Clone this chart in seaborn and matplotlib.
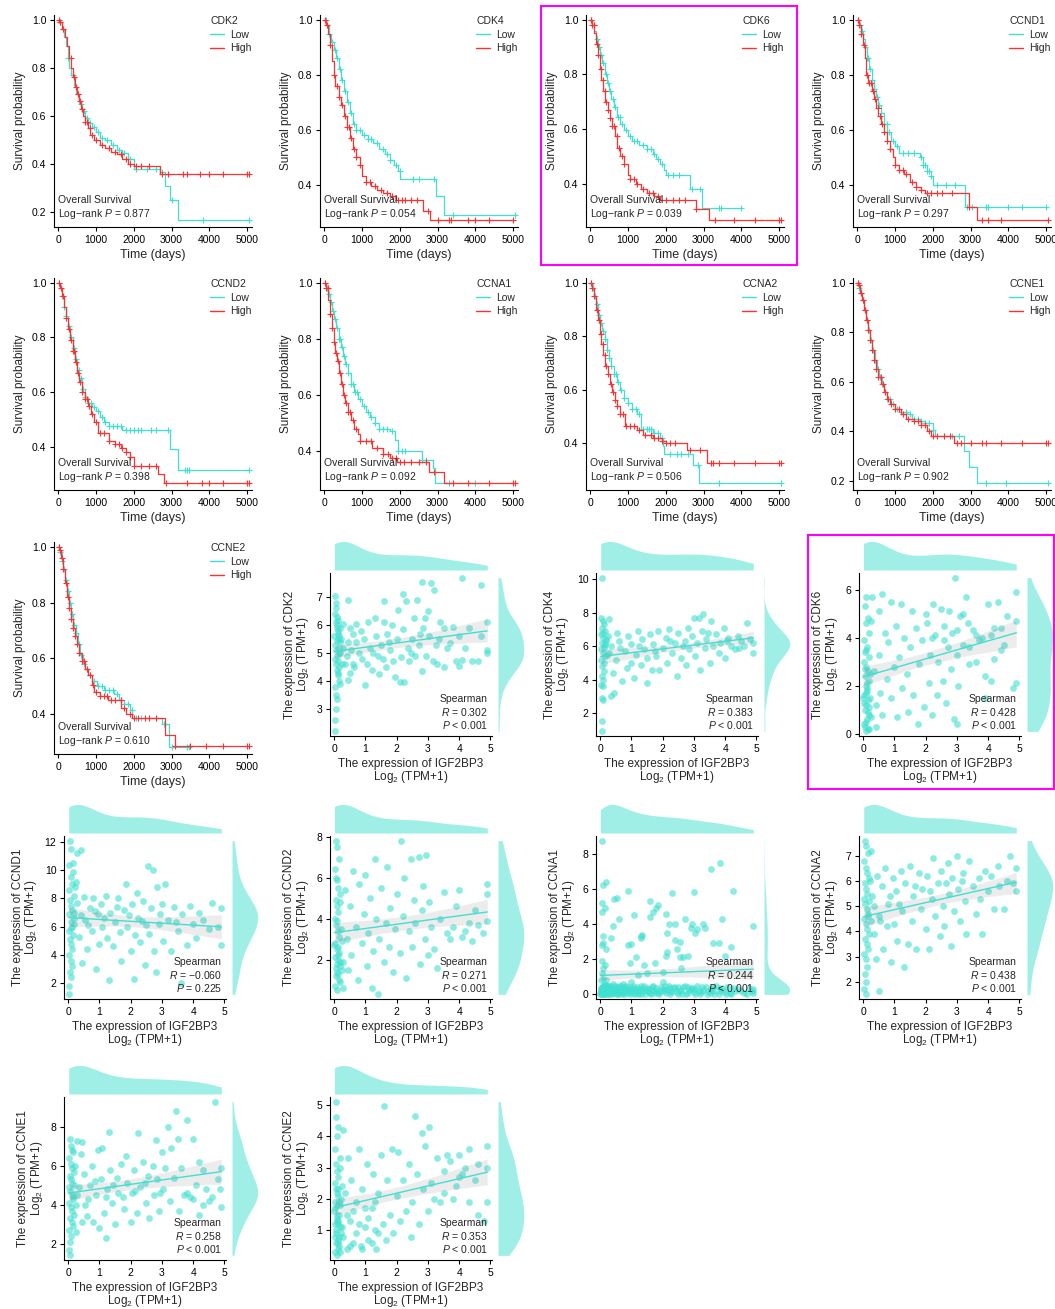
"""
IGF2BP3 相关基因：生存曲线 + 表达相关性散点图
布局按像素放置，输出 out.png
"""
import numpy as np
import matplotlib
matplotlib.use("Agg")
import matplotlib.pyplot as plt
from matplotlib.lines import Line2D
from matplotlib.patches import Rectangle
from matplotlib.ticker import MultipleLocator, FormatStrFormatter
import seaborn as sns

# ── KM 数据：阶梯拐点 (时间, 生存率) + 删失时间 ──
CDK2_LOW_T = [40, 90, 150, 200, 250, 300, 350, 420, 480, 550, 620, 700, 800, 900, 1000, 1100, 1250, 1400, 1550, 1700, 1850, 2000, 2700, 2820, 2960, 3180]
CDK2_LOW_S = [0.99, 0.96, 0.93, 0.89, 0.84, 0.80, 0.77, 0.73, 0.69, 0.65, 0.62, 0.59, 0.57, 0.555, 0.535, 0.51, 0.50, 0.48, 0.46, 0.445, 0.42, 0.38, 0.365, 0.31, 0.25, 0.165]
CDK2_LOW_C = [50, 120, 260, 380, 520, 600, 680, 760, 850, 950, 1050, 1150, 1300, 1450, 1600, 1750, 1900, 2050, 2350, 2600, 2750, 3000, 3820, 5050]
CDK2_HIGH_T = [30, 100, 170, 230, 290, 350, 400, 450, 500, 550, 600, 650, 700, 780, 850, 950, 1100, 1250, 1400, 1550, 1700, 1850, 2000, 2700]
CDK2_HIGH_S = [0.99, 0.96, 0.93, 0.89, 0.84, 0.80, 0.76, 0.72, 0.69, 0.66, 0.63, 0.60, 0.575, 0.55, 0.52, 0.50, 0.48, 0.465, 0.45, 0.44, 0.42, 0.40, 0.39, 0.36]
CDK2_HIGH_C = [20, 60, 130, 330, 420, 470, 520, 580, 640, 700, 760, 830, 900, 1000, 1150, 1350, 1500, 1650, 1800, 1900, 2050, 2200, 2400, 2750, 2900, 3300, 3400, 3750, 4000, 4350, 5000, 5060]

CDK4_LOW_T = [60, 120, 180, 250, 320, 380, 450, 520, 600, 680, 760, 850, 1000, 1150, 1300, 1450, 1600, 1750, 1850, 1950, 2020, 2950, 3180]
CDK4_LOW_S = [0.98, 0.95, 0.92, 0.89, 0.86, 0.82, 0.78, 0.74, 0.70, 0.66, 0.62, 0.60, 0.58, 0.565, 0.55, 0.53, 0.51, 0.49, 0.47, 0.45, 0.42, 0.36, 0.29]
CDK4_LOW_C = [40, 130, 220, 300, 350, 420, 480, 550, 620, 700, 780, 850, 950, 1050, 1150, 1250, 1400, 1550, 1650, 1750, 1900, 2000, 2350, 2500, 2900, 3400, 5050]
CDK4_HIGH_T = [40, 100, 150, 200, 250, 300, 380, 450, 520, 600, 680, 760, 850, 950, 1000, 1100, 1250, 1400, 1550, 1750, 1900, 2620, 2800]
CDK4_HIGH_S = [0.98, 0.95, 0.91, 0.85, 0.80, 0.76, 0.72, 0.69, 0.65, 0.61, 0.57, 0.53, 0.50, 0.47, 0.43, 0.41, 0.395, 0.38, 0.37, 0.36, 0.345, 0.305, 0.27]
CDK4_HIGH_C = [30, 80, 160, 250, 330, 400, 470, 540, 600, 660, 720, 790, 850, 950, 1100, 1200, 1350, 1500, 1650, 1800, 1950, 2050, 2150, 2300, 2450, 2750, 3000, 3300, 3350, 3800, 4000, 4350, 5000]

CDK6_LOW_T = [50, 100, 150, 200, 260, 320, 380, 440, 500, 560, 620, 700, 800, 900, 1000, 1100, 1300, 1500, 1650, 1750, 1850, 1950, 2000, 2650, 2950]
CDK6_LOW_S = [0.98, 0.96, 0.93, 0.90, 0.87, 0.84, 0.80, 0.77, 0.74, 0.71, 0.68, 0.645, 0.62, 0.595, 0.575, 0.555, 0.54, 0.525, 0.51, 0.49, 0.47, 0.45, 0.43, 0.38, 0.31]
CDK6_LOW_C = [30, 90, 170, 240, 290, 350, 420, 480, 530, 600, 660, 730, 780, 850, 950, 1050, 1150, 1250, 1400, 1500, 1600, 1700, 1800, 1900, 2050, 2200, 2350, 2700, 2900, 3400, 3450, 4000]
CDK6_HIGH_T = [40, 100, 150, 200, 250, 300, 350, 400, 460, 520, 580, 650, 720, 800, 900, 1000, 1050, 1200, 1350, 1500, 1700, 1850, 2800, 3150]
CDK6_HIGH_S = [0.98, 0.95, 0.91, 0.87, 0.82, 0.78, 0.74, 0.70, 0.67, 0.64, 0.61, 0.575, 0.53, 0.50, 0.47, 0.43, 0.415, 0.40, 0.38, 0.365, 0.355, 0.34, 0.305, 0.265]
CDK6_HIGH_C = [20, 60, 90, 180, 220, 280, 330, 380, 420, 470, 520, 580, 620, 700, 760, 830, 900, 1050, 1150, 1250, 1400, 1550, 1650, 1800, 2000, 2200, 2350, 2500, 2800, 3300, 3800, 4350, 5000, 5050]

CCND1_LOW_T = [50, 100, 150, 200, 260, 320, 380, 440, 500, 560, 620, 700, 800, 900, 1000, 1100, 1650, 1750, 1850, 1950, 2000, 2850]
CCND1_LOW_S = [0.98, 0.96, 0.93, 0.90, 0.86, 0.82, 0.78, 0.75, 0.72, 0.69, 0.66, 0.62, 0.59, 0.56, 0.54, 0.515, 0.50, 0.47, 0.45, 0.43, 0.40, 0.32]
CCND1_LOW_C = [30, 80, 130, 200, 260, 300, 340, 400, 450, 520, 580, 640, 700, 780, 850, 950, 1050, 1200, 1350, 1500, 1700, 1750, 1800, 1850, 1900, 1950, 2100, 2350, 2600, 2900, 3050, 3400, 3450, 4000, 4350, 5000]
CCND1_HIGH_T = [40, 100, 150, 200, 230, 300, 380, 440, 500, 560, 620, 700, 780, 860, 950, 1000, 1100, 1250, 1400, 1550, 1700, 1800, 2950, 3170]
CCND1_HIGH_S = [0.98, 0.95, 0.91, 0.86, 0.80, 0.77, 0.74, 0.71, 0.68, 0.65, 0.62, 0.59, 0.56, 0.53, 0.50, 0.47, 0.455, 0.44, 0.41, 0.39, 0.38, 0.37, 0.32, 0.27]
CCND1_HIGH_C = [20, 60, 110, 170, 260, 320, 370, 420, 480, 540, 600, 660, 720, 800, 880, 1000, 1100, 1200, 1300, 1450, 1550, 1700, 1850, 1950, 2100, 2250, 2500, 2950, 3300, 3450, 3800, 5050]

CCND2_LOW_T = [50, 100, 150, 200, 260, 320, 380, 440, 500, 560, 620, 700, 800, 900, 1000, 1100, 1200, 1350, 1700, 2950, 3180]
CCND2_LOW_S = [0.98, 0.95, 0.91, 0.88, 0.84, 0.80, 0.76, 0.72, 0.68, 0.65, 0.61, 0.58, 0.56, 0.545, 0.53, 0.51, 0.49, 0.475, 0.46, 0.39, 0.315]
CCND2_LOW_C = [30, 100, 160, 220, 300, 350, 420, 480, 540, 600, 660, 720, 800, 880, 960, 1050, 1150, 1250, 1350, 1450, 1550, 1650, 1800, 1900, 2000, 2100, 2200, 2450, 2600, 2900, 3350, 3400, 3450, 5050]
CCND2_HIGH_T = [40, 100, 150, 200, 260, 320, 380, 440, 500, 560, 620, 700, 800, 880, 950, 1050, 1350, 1500, 1650, 1800, 1900, 2000, 2650, 2800]
CCND2_HIGH_S = [0.98, 0.95, 0.91, 0.87, 0.83, 0.79, 0.75, 0.71, 0.67, 0.635, 0.60, 0.575, 0.55, 0.52, 0.49, 0.45, 0.42, 0.41, 0.395, 0.38, 0.36, 0.33, 0.30, 0.265]
CCND2_HIGH_C = [20, 70, 120, 200, 280, 330, 380, 430, 480, 530, 580, 640, 700, 760, 820, 900, 1000, 1100, 1200, 1350, 1500, 1600, 1700, 1800, 1900, 2000, 2200, 2400, 2600, 2850, 3400, 3800, 4000, 4350, 5000, 5050]

CCNA1_LOW_T = [50, 100, 150, 200, 260, 320, 380, 440, 500, 560, 620, 700, 800, 900, 1000, 1100, 1200, 1350, 1450, 1750, 1880, 1950, 2600, 2880, 2930]
CCNA1_LOW_S = [0.98, 0.96, 0.93, 0.90, 0.87, 0.84, 0.80, 0.77, 0.74, 0.71, 0.68, 0.64, 0.61, 0.585, 0.56, 0.54, 0.52, 0.50, 0.48, 0.47, 0.44, 0.40, 0.37, 0.34, 0.285]
CCNA1_LOW_C = [20, 70, 120, 180, 230, 280, 330, 380, 430, 480, 530, 580, 640, 700, 760, 820, 880, 950, 1050, 1150, 1250, 1350, 1450, 1550, 1650, 1800, 1950, 2050, 2150, 2600, 2700, 3300, 4000]
CCNA1_HIGH_T = [40, 100, 150, 200, 250, 300, 350, 400, 450, 500, 560, 620, 700, 800, 900, 950, 1275, 1550, 1740, 1930, 2780, 3160]
CCNA1_HIGH_S = [0.98, 0.94, 0.89, 0.84, 0.79, 0.75, 0.72, 0.68, 0.64, 0.60, 0.57, 0.54, 0.51, 0.48, 0.46, 0.435, 0.41, 0.39, 0.375, 0.36, 0.325, 0.285]
CCNA1_HIGH_C = [10, 50, 90, 150, 220, 270, 320, 370, 420, 470, 520, 570, 620, 680, 760, 850, 950, 1100, 1250, 1400, 1550, 1700, 1800, 1900, 2000, 2100, 2300, 2500, 2700, 2900, 3400, 3800, 4350, 5000, 5050]

CCNA2_LOW_T = [50, 100, 150, 200, 260, 320, 380, 440, 500, 560, 620, 700, 800, 900, 1000, 1100, 1250, 1340, 1670, 1840, 1930, 1950, 2720, 2880]
CCNA2_LOW_S = [0.98, 0.95, 0.92, 0.88, 0.85, 0.82, 0.79, 0.75, 0.72, 0.69, 0.66, 0.63, 0.60, 0.57, 0.55, 0.53, 0.51, 0.455, 0.44, 0.42, 0.39, 0.36, 0.32, 0.25]
CCNA2_LOW_C = [30, 80, 130, 190, 240, 290, 340, 400, 450, 500, 560, 620, 680, 750, 820, 900, 1000, 1100, 1200, 1300, 1400, 1500, 1550, 1600, 1700, 1800, 1900, 2100, 2300, 2400, 2600, 2850, 3400, 5050]
CCNA2_HIGH_T = [40, 100, 150, 200, 250, 300, 350, 400, 460, 520, 580, 650, 720, 800, 920, 1230, 1400, 1670, 1890, 2000, 2560, 3090]
CCNA2_HIGH_S = [0.98, 0.95, 0.90, 0.86, 0.81, 0.77, 0.73, 0.69, 0.66, 0.62, 0.59, 0.56, 0.54, 0.51, 0.465, 0.45, 0.43, 0.42, 0.41, 0.40, 0.375, 0.325]
CCNA2_HIGH_C = [20, 60, 110, 170, 230, 280, 330, 380, 430, 480, 540, 600, 660, 720, 800, 880, 960, 1050, 1150, 1300, 1450, 1600, 1700, 1800, 1900, 2000, 2100, 2250, 2650, 2900, 3200, 3250, 3400, 3800, 4350, 5000, 5050]

CCNE1_LOW_T = [40, 90, 140, 190, 240, 290, 340, 400, 460, 520, 580, 650, 720, 800, 900, 1000, 1150, 1320, 1450, 1650, 1800, 2000, 2050, 2820, 2950, 3160]
CCNE1_LOW_S = [0.98, 0.96, 0.93, 0.89, 0.85, 0.81, 0.77, 0.73, 0.69, 0.65, 0.62, 0.59, 0.56, 0.53, 0.51, 0.49, 0.48, 0.47, 0.45, 0.44, 0.435, 0.405, 0.38, 0.32, 0.255, 0.19]
CCNE1_LOW_C = [20, 60, 110, 160, 210, 260, 320, 370, 420, 480, 540, 600, 660, 730, 800, 880, 960, 1050, 1150, 1300, 1400, 1500, 1600, 1700, 1800, 1900, 2000, 2300, 2500, 2700, 3400, 3950, 5050]
CCNE1_HIGH_T = [30, 80, 130, 180, 230, 280, 330, 380, 440, 500, 560, 630, 700, 780, 880, 1000, 1150, 1300, 1500, 1700, 1850, 1950, 2550]
CCNE1_HIGH_S = [0.99, 0.96, 0.93, 0.89, 0.85, 0.81, 0.77, 0.73, 0.69, 0.65, 0.62, 0.59, 0.56, 0.53, 0.51, 0.49, 0.47, 0.45, 0.44, 0.425, 0.40, 0.38, 0.355]
CCNE1_HIGH_C = [10, 50, 100, 150, 200, 250, 300, 350, 400, 450, 500, 560, 620, 680, 750, 820, 900, 1000, 1100, 1200, 1350, 1500, 1600, 1700, 1800, 1900, 2000, 2100, 2300, 2450, 2650, 2750, 3000, 3300, 3400, 3800, 4350, 5000, 5050]

CCNE2_LOW_T = [40, 90, 140, 190, 240, 290, 340, 400, 460, 520, 580, 650, 720, 800, 900, 1040, 1200, 1480, 1600, 1750, 1900, 1960, 2760, 2930]
CCNE2_LOW_S = [0.98, 0.95, 0.92, 0.88, 0.84, 0.80, 0.76, 0.72, 0.69, 0.65, 0.61, 0.58, 0.56, 0.54, 0.52, 0.50, 0.485, 0.47, 0.45, 0.435, 0.415, 0.385, 0.365, 0.28]
CCNE2_LOW_C = [20, 60, 110, 160, 210, 260, 310, 360, 420, 480, 540, 600, 680, 760, 850, 950, 1050, 1150, 1250, 1350, 1450, 1550, 1650, 1750, 1850, 1950, 2050, 2200, 2600, 2800, 3000, 3400, 3450]
CCNE2_HIGH_T = [30, 80, 130, 180, 230, 280, 330, 380, 440, 500, 560, 620, 700, 800, 900, 940, 1100, 1310, 1660, 1800, 1950, 2830, 3100]
CCNE2_HIGH_S = [0.99, 0.96, 0.92, 0.87, 0.82, 0.78, 0.74, 0.71, 0.68, 0.65, 0.62, 0.59, 0.56, 0.54, 0.505, 0.48, 0.463, 0.45, 0.42, 0.40, 0.385, 0.323, 0.284]
CCNE2_HIGH_C = [10, 40, 90, 140, 200, 250, 300, 350, 400, 450, 500, 560, 620, 690, 760, 840, 920, 1000, 1100, 1200, 1300, 1400, 1500, 1650, 1750, 1900, 2000, 2100, 2300, 2400, 2600, 3100, 3500, 3900, 4350, 5000, 5050]

KM_GENES = ["CDK2", "CDK4", "CDK6", "CCND1", "CCND2", "CCNA1", "CCNA2", "CCNE1", "CCNE2"]
KM_PVALUES = ["0.877", "0.054", "0.039", "0.297", "0.398", "0.092", "0.506", "0.902", "0.610"]

# ── 相关性散点数据 (IGF2BP3, 基因) ──
CDK2_PTS = [
    (0.02, 7.05), (0.05, 6.6), (0.08, 6.3), (0.10, 6.0), (0.12, 5.8), (0.15, 5.6), (0.18, 5.4), (0.03, 6.4), (0.06, 6.1), (0.09, 5.9),
    (0.11, 5.7), (0.14, 5.5), (0.17, 5.2), (0.20, 5.0), (0.04, 5.3), (0.07, 5.1), (0.10, 4.9), (0.13, 4.7), (0.16, 4.5), (0.02, 4.8),
    (0.05, 4.6), (0.08, 4.4), (0.12, 4.2), (0.15, 4.0), (0.03, 3.8), (0.06, 3.5), (0.09, 3.35), (0.05, 3.0), (0.02, 2.6), (0.04, 2.2),
    (0.07, 6.8), (0.13, 6.2), (0.18, 5.9), (0.22, 5.5), (0.01, 5.6), (0.09, 5.45), (0.16, 5.0), (0.24, 4.6), (0.11, 4.3), (0.19, 3.9),
    (0.45, 6.9), (0.3, 6.05), (0.5, 5.9), (0.6, 5.7), (0.7, 6.05), (0.45, 5.4), (0.55, 5.1), (0.4, 4.9), (0.6, 4.6), (0.5, 4.3),
    (0.45, 4.05), (0.65, 4.5), (0.8, 5.0), (0.9, 4.8), (0.95, 5.5), (1.0, 3.85), (1.05, 4.6), (1.1, 6.1), (1.15, 5.2), (1.2, 4.4),
    (1.3, 6.25), (1.35, 5.6), (1.4, 4.9), (1.45, 4.25), (1.5, 5.3), (1.6, 6.85), (1.6, 6.1), (1.65, 4.5), (1.7, 5.7), (1.8, 5.1),
    (1.85, 6.0), (1.9, 4.7), (1.95, 4.15), (2.0, 5.5), (2.05, 6.55), (2.1, 3.95), (2.15, 4.85), (2.2, 7.1), (2.2, 5.85), (2.25, 3.95),
    (2.3, 6.85), (2.35, 5.2), (2.4, 4.7), (2.5, 5.5), (2.55, 6.25), (2.6, 4.9), (2.65, 6.9), (2.7, 5.3), (2.8, 7.55), (2.8, 4.35),
    (2.85, 5.9), (2.9, 6.25), (2.95, 4.9), (3.0, 6.5), (3.05, 5.6), (3.1, 7.5), (3.15, 4.7), (3.2, 7.25), (3.25, 5.3), (3.3, 4.6),
    (3.4, 6.1), (3.5, 4.5), (3.5, 5.9), (3.6, 5.2), (3.7, 5.35), (3.8, 5.95), (3.9, 4.7), (4.0, 4.55), (4.0, 5.6), (4.1, 7.7),
    (4.1, 4.75), (4.2, 5.2), (4.3, 5.9), (4.4, 4.7), (4.6, 4.7), (4.7, 7.45), (4.7, 5.6), (4.9, 6.1), (4.9, 5.1), (4.9, 5.0),
    (0.3, 5.2), (0.35, 4.6), (0.7, 5.4), (0.85, 5.8), (1.25, 5.0), (1.55, 4.8), (1.75, 5.4), (2.45, 5.0), (2.75, 5.7), (3.35, 5.5),
]
CDK4_PTS = [
    (0.05, 10.1), (0.03, 7.7), (0.08, 7.5), (0.12, 7.3), (0.05, 7.1), (0.15, 6.9), (0.02, 6.7), (0.1, 6.5), (0.18, 6.3), (0.06, 6.2),
    (0.13, 6.0), (0.04, 5.8), (0.09, 5.6), (0.16, 5.4), (0.02, 5.2), (0.11, 5.0), (0.07, 4.8), (0.14, 4.5), (0.05, 4.2), (0.1, 4.0),
    (0.03, 3.7), (0.08, 3.6), (0.05, 2.9), (0.1, 2.8), (0.05, 1.5), (0.05, 0.9), (0.2, 6.4), (0.12, 5.9), (0.22, 5.5), (0.08, 6.8),
    (0.3, 7.6), (0.35, 6.0), (0.4, 4.4), (0.45, 3.2), (0.35, 3.0), (0.5, 5.2), (0.6, 6.3), (0.7, 3.9), (0.8, 5.7), (0.85, 4.7),
    (0.9, 6.6), (1.0, 5.0), (1.0, 6.1), (1.1, 4.1), (1.15, 5.5), (1.2, 6.9), (1.3, 4.9), (1.35, 6.4), (1.4, 5.8), (1.5, 3.8),
    (1.5, 5.3), (1.6, 6.7), (1.65, 4.6), (1.7, 6.1), (1.8, 5.4), (1.85, 6.9), (1.9, 4.6), (2.0, 5.9), (2.1, 6.5), (2.15, 5.0),
    (2.2, 7.0), (2.3, 5.6), (2.4, 6.2), (2.45, 4.2), (2.5, 6.8), (2.6, 5.3), (2.7, 6.3), (2.75, 4.9), (2.8, 7.1), (2.85, 5.8),
    (2.95, 6.6), (3.0, 7.7), (3.05, 5.4), (3.1, 6.2), (3.15, 7.7), (3.2, 4.6), (3.25, 6.9), (3.3, 7.9), (3.35, 5.9), (3.4, 6.4),
    (3.5, 5.0), (3.55, 7.5), (3.6, 6.0), (3.7, 6.7), (3.8, 5.6), (3.85, 6.2), (3.95, 7.1), (4.0, 5.3), (4.1, 6.5), (4.2, 6.0),
    (4.3, 5.8), (4.4, 6.6), (4.5, 6.3), (4.6, 6.0), (4.7, 7.4), (4.8, 6.4), (4.9, 6.2), (4.9, 5.6), (0.25, 6.6), (0.55, 6.8),
    (0.15, 6.1), (0.3, 5.6), (0.65, 5.9), (1.25, 6.0), (1.75, 5.7), (2.25, 6.3), (2.65, 6.0), (3.45, 6.8), (4.05, 6.3), (4.45, 5.9),
]
CDK6_PTS = [
    (0.1, 5.7), (0.05, 5.3), (0.15, 4.8), (0.08, 4.6), (0.2, 4.2), (0.03, 3.9), (0.12, 3.6), (0.06, 3.4), (0.18, 3.2), (0.02, 3.0),
    (0.1, 2.8), (0.15, 2.6), (0.05, 2.4), (0.2, 2.2), (0.08, 2.0), (0.13, 1.8), (0.03, 1.6), (0.17, 1.4), (0.1, 1.2), (0.06, 1.0),
    (0.2, 0.8), (0.12, 0.6), (0.04, 0.4), (0.15, 0.2), (0.08, 0.1), (0.22, 2.5), (0.01, 1.5), (0.09, 3.5), (0.24, 0.7), (0.14, 1.9),
    (0.05, 0.3), (0.1, 0.5), (0.15, 0.9), (0.2, 1.1), (0.03, 1.3), (0.08, 1.7), (0.12, 2.1), (0.18, 0.2), (0.06, 2.7), (0.22, 1.5),
    (0.3, 5.7), (0.25, 4.7), (0.35, 2.6), (0.4, 1.2), (0.4, 0.3), (0.5, 5.1), (0.5, 3.3), (0.55, 1.7), (0.6, 0.8), (0.6, 5.8),
    (0.7, 4.2), (0.75, 2.3), (0.8, 3.8), (0.9, 1.5), (0.9, 5.5), (1.0, 2.8), (1.05, 4.5), (1.1, 0.7), (1.15, 3.2), (1.2, 5.4),
    (1.25, 1.9), (1.3, 4.0), (1.4, 2.5), (1.45, 0.9), (1.5, 3.6), (1.55, 5.1), (1.6, 1.6), (1.7, 4.4), (1.75, 0.4), (1.8, 2.9),
    (1.9, 3.9), (1.95, 1.1), (2.0, 5.0), (2.05, 4.6), (2.1, 2.1), (2.15, 3.3), (2.2, 0.8), (2.25, 5.4), (2.3, 4.1), (2.35, 1.6),
    (2.4, 3.0), (2.5, 5.2), (2.55, 2.2), (2.6, 4.5), (2.65, 1.3), (2.7, 3.6), (2.75, 5.1), (2.8, 2.7), (2.85, 4.2), (2.9, 0.6),
    (2.95, 6.5), (3.0, 3.3), (3.0, 0.4), (3.05, 2.0), (3.1, 4.9), (3.2, 3.7), (3.3, 5.7), (3.35, 4.6), (3.4, 2.9), (3.5, 4.3),
    (3.6, 3.0), (3.7, 3.9), (3.8, 4.0), (3.9, 2.4), (4.0, 5.4), (4.1, 2.2), (4.2, 4.4), (4.3, 5.5), (4.4, 3.5), (4.5, 3.7),
    (4.6, 4.9), (4.8, 1.9), (4.9, 5.9), (4.9, 4.7), (4.9, 2.1), (3.6, 4.1), (3.9, 1.5), (4.2, 3.1), (4.4, 4.4), (4.1, 4.1),
    (3.4, 3.6), (3.2, 5.0), (3.0, 4.3), (2.6, 3.9), (2.2, 4.0),
]
CCND1_PTS = [
    (0.05, 12.1), (0.1, 11.5), (0.03, 10.4), (0.15, 9.9), (0.08, 9.5), (0.12, 9.0), (0.02, 8.6), (0.18, 8.2), (0.06, 7.9), (0.1, 7.5),
    (0.14, 7.2), (0.04, 6.9), (0.2, 6.6), (0.08, 6.3), (0.12, 6.0), (0.02, 5.7), (0.16, 5.4), (0.06, 5.1), (0.1, 4.8), (0.14, 4.4),
    (0.03, 4.0), (0.08, 3.6), (0.12, 3.2), (0.05, 2.8), (0.1, 2.4), (0.04, 1.8), (0.02, 1.2), (0.22, 8.8), (0.18, 7.0), (0.09, 5.9),
    (0.3, 11.2), (0.4, 11.4), (0.3, 7.7), (0.35, 5.3), (0.45, 3.4), (0.5, 8.1), (0.55, 6.5), (0.6, 4.4), (0.7, 7.3), (0.75, 5.7),
    (0.8, 8.0), (0.9, 3.0), (0.95, 6.9), (1.0, 4.8), (1.05, 7.6), (1.1, 6.0), (1.2, 8.2), (1.25, 5.2), (1.3, 2.2), (1.35, 7.0),
    (1.45, 4.6), (1.5, 6.3), (1.6, 8.0), (1.65, 5.6), (1.7, 3.6), (1.8, 7.2), (1.85, 9.0), (1.9, 6.0), (2.0, 4.3), (2.05, 7.6),
    (2.1, 2.3), (2.15, 5.4), (2.2, 8.4), (2.25, 6.6), (2.3, 4.9), (2.4, 7.8), (2.45, 3.3), (2.5, 6.1), (2.55, 10.3), (2.6, 5.5),
    (2.65, 7.3), (2.7, 10.0), (2.75, 4.3), (2.8, 2.8), (2.85, 8.8), (2.9, 6.2), (3.0, 7.6), (3.05, 5.0), (3.1, 9.0), (3.2, 6.5),
    (3.3, 4.3), (3.4, 7.4), (3.5, 5.7), (3.6, 2.0), (3.65, 6.9), (3.8, 4.7), (3.9, 7.5), (4.0, 6.2), (4.1, 5.2), (4.2, 7.0),
    (4.3, 6.5), (4.5, 5.8), (4.6, 7.7), (4.8, 6.0), (4.9, 7.3), (4.9, 4.7), (0.25, 9.2), (0.15, 10.5),
    (0.2, 6.2), (0.4, 6.8), (0.65, 6.1), (0.85, 7.1), (1.15, 6.6), (1.55, 7.4), (1.95, 6.8), (2.35, 6.4), (2.95, 6.9), (3.45, 6.3),
]
CCND2_PTS = [
    (0.05, 7.8), (0.1, 7.5), (0.15, 6.9), (0.03, 6.4), (0.08, 5.9), (0.12, 5.5), (0.18, 5.2), (0.05, 4.9), (0.1, 4.6), (0.14, 4.3),
    (0.02, 4.0), (0.07, 3.7), (0.12, 3.4), (0.17, 3.1), (0.04, 2.8), (0.09, 2.5), (0.14, 2.2), (0.2, 1.9), (0.06, 1.6), (0.11, 1.3),
    (0.16, 1.0), (0.03, 0.7), (0.08, 0.5), (0.22, 3.5), (0.13, 2.0), (0.2, 4.8), (0.06, 6.0), (0.01, 2.7), (0.24, 1.5), (0.1, 3.9),
    (0.05, 1.2), (0.1, 1.8), (0.15, 2.3), (0.2, 0.9), (0.03, 2.1), (0.08, 1.4), (0.12, 2.6), (0.18, 1.7), (0.25, 2.9), (0.3, 1.9),
    (0.3, 0.6), (0.35, 5.4), (0.4, 3.0), (0.45, 1.5), (0.5, 4.6), (0.55, 2.2), (0.6, 6.3), (0.7, 3.6), (0.75, 1.0), (0.8, 5.7),
    (0.9, 2.8), (0.95, 4.2), (1.0, 6.1), (1.05, 1.7), (1.1, 3.3), (1.15, 5.0), (1.2, 0.6), (1.25, 2.4), (1.3, 6.9), (1.35, 4.0),
    (1.4, 0.3), (1.45, 3.0), (1.5, 5.5), (1.6, 1.9), (1.65, 3.8), (1.7, 6.5), (1.75, 2.6), (1.8, 4.5), (1.9, 1.4), (1.95, 3.5),
    (2.0, 5.2), (2.1, 2.3), (2.15, 7.8), (2.2, 4.1), (2.25, 6.0), (2.3, 1.1), (2.4, 3.4), (2.45, 6.9), (2.5, 2.6), (2.55, 4.9),
    (2.6, 3.8), (2.7, 7.0), (2.75, 1.8), (2.8, 4.4), (2.85, 5.6), (2.9, 3.0), (2.95, 7.1), (3.0, 2.2), (3.05, 4.8), (3.1, 3.6),
    (3.2, 2.5), (3.3, 1.6), (3.4, 4.0), (3.5, 5.3), (3.6, 3.3), (3.7, 3.0), (3.8, 3.6), (3.9, 4.6), (4.0, 5.4), (4.1, 3.1),
    (4.2, 3.4), (4.3, 3.8), (4.4, 2.9), (4.5, 4.4), (4.6, 3.7), (4.75, 3.3), (4.9, 5.7), (4.9, 3.9), (4.9, 5.2),
]
CCNA1_PTS = [
    (0.05, 8.75), (0.1, 6.2), (0.2, 6.4), (0.05, 5.2), (0.05, 4.7), (0.15, 4.9), (0.05, 2.8), (0.1, 3.3), (0.2, 2.6), (0.1, 2.9),
    (0.05, 1.9), (0.1, 1.5), (0.15, 1.7), (0.05, 1.2), (0.1, 0.9), (0.02, 0.1), (0.05, 0.3), (0.08, 0.5), (0.1, 0.0), (0.12, 0.2),
    (0.15, 0.6), (0.18, 0.1), (0.03, 0.8), (0.06, 0.4), (0.09, 0.15), (0.2, 0.3), (0.25, 0.05), (0.14, 0.35), (0.04, 0.05), (0.22, 0.5),
    (0.45, 5.4), (0.55, 5.5), (0.6, 4.3), (0.4, 3.9), (0.35, 3.2), (0.9, 5.9), (0.9, 2.8), (1.0, 2.85), (0.95, 1.8), (1.1, 4.5),
    (1.15, 2.1), (1.3, 3.3), (1.35, 3.4), (1.3, 3.2), (1.4, 1.7), (1.6, 5.3), (1.7, 4.7), (1.6, 4.4), (1.85, 5.1), (1.8, 4.9),
    (1.75, 1.8), (2.1, 4.6), (2.2, 4.0), (2.3, 5.75), (2.15, 3.5), (2.1, 2.2), (2.15, 2.4), (2.4, 4.0), (2.4, 3.1), (2.45, 2.6),
    (2.55, 3.0), (2.55, 2.1), (2.7, 4.3), (2.65, 2.1), (2.8, 2.2), (2.9, 3.8), (3.0, 5.85), (2.95, 4.0), (3.05, 3.5), (3.1, 3.7),
    (3.3, 4.0), (3.35, 3.8), (3.55, 7.15), (3.6, 2.9), (3.8, 2.9), (3.85, 7.5), (3.9, 4.3), (4.25, 5.9), (4.2, 2.7), (4.0, 2.2),
    (4.9, 3.9), (1.5, 1.2), (2.0, 1.3), (1.2, 1.1), (2.6, 1.5),
    (0.3, 0.3), (0.5, 0.1), (0.6, 0.5), (0.7, 0.2), (0.8, 0.05), (0.9, 0.4), (1.0, 0.15), (1.1, 0.3), (1.2, 0.0), (1.3, 0.5),
    (1.4, 0.2), (1.5, 0.35), (1.6, 0.1), (1.7, 0.45), (1.8, 0.2), (1.9, 0.05), (2.0, 0.3), (2.1, 0.1), (2.2, 0.5), (2.3, 0.2),
    (2.4, 0.35), (2.5, 0.05), (2.6, 0.25), (2.7, 0.45), (2.8, 0.1), (2.9, 0.3), (3.0, 0.15), (3.1, 0.5), (3.2, 0.05), (3.3, 0.25),
    (3.4, 0.4), (3.5, 0.1), (3.6, 0.2), (3.7, 0.5), (3.8, 0.05), (3.9, 0.3), (4.0, 0.15), (4.2, 0.05), (4.3, 0.2), (4.9, 0.3),
    (4.9, 0.1), (0.4, 0.6), (1.0, 0.7), (2.0, 0.7), (0.2, 0.8),
    (0.01, 0.05), (0.03, 0.2), (0.07, 0.1), (0.11, 0.45), (0.16, 0.05), (0.19, 0.25), (0.27, 0.15), (0.33, 0.4), (0.38, 0.05), (0.42, 0.25),
    (0.48, 0.5), (0.52, 0.3), (0.58, 0.05), (0.65, 0.35), (0.72, 0.6), (0.78, 0.15), (0.85, 0.3), (0.95, 0.05), (1.05, 0.45), (1.15, 0.2),
    (0.08, 0.25), (0.13, 0.05), (0.17, 0.4), (0.23, 0.2), (0.35, 0.1), (0.55, 0.2), (0.75, 0.4), (0.98, 0.25), (1.25, 0.1), (1.35, 0.3),
    (1.55, 0.15), (1.65, 0.4), (1.85, 0.1), (2.05, 0.2), (2.25, 0.05), (2.35, 0.4), (2.55, 0.2), (2.75, 0.05), (2.95, 0.35), (3.15, 0.2),
    (0.02, 0.35), (0.06, 0.15), (0.1, 0.3), (0.14, 0.2), (0.18, 0.45), (0.21, 0.1), (0.26, 0.35), (0.31, 0.2), (0.36, 0.5), (0.44, 0.1),
    (0.5, 0.4), (0.62, 0.1), (0.68, 0.25), (0.82, 0.5), (0.88, 0.1), (1.08, 0.05), (1.18, 0.4), (1.28, 0.25), (1.45, 0.05), (1.58, 0.3),
    (1.75, 0.1), (1.95, 0.4), (2.15, 0.25), (2.45, 0.15), (2.65, 0.4), (2.85, 0.25), (3.05, 0.05), (3.25, 0.4), (3.45, 0.2), (3.65, 0.05),
    (3.85, 0.35), (4.05, 0.4), (4.15, 0.1), (4.4, 0.3), (4.6, 0.1), (4.75, 0.35), (3.55, 0.3), (2.25, 0.35), (1.4, 0.45), (0.7, 0.05),
    (0.04, 0.25), (0.09, 0.05), (0.12, 0.4), (0.16, 0.3), (0.2, 0.15), (0.24, 0.45), (0.29, 0.05), (0.34, 0.25), (0.4, 0.15), (0.46, 0.35),
    (0.53, 0.05), (0.6, 0.3), (0.66, 0.45), (0.74, 0.1), (0.8, 0.3), (0.92, 0.2), (1.02, 0.35), (1.12, 0.1), (1.22, 0.3), (1.32, 0.05),
    (1.48, 0.25), (1.62, 0.05), (1.78, 0.35), (1.92, 0.2), (2.08, 0.45), (2.28, 0.15), (2.48, 0.4), (2.62, 0.05), (2.82, 0.4), (3.02, 0.3),
    (3.22, 0.15), (3.42, 0.05), (3.62, 0.4), (3.82, 0.2), (4.02, 0.05), (4.25, 0.35), (4.5, 0.2), (4.7, 0.05), (4.85, 0.2), (1.7, 0.25),
]
CCNA2_PTS = [
    (0.05, 7.6), (0.1, 7.4), (0.15, 7.1), (0.03, 6.8), (0.08, 6.5), (0.12, 6.3), (0.18, 6.1), (0.05, 5.9), (0.1, 5.7), (0.14, 5.5),
    (0.02, 5.3), (0.07, 5.1), (0.12, 4.9), (0.17, 4.7), (0.04, 4.5), (0.09, 4.3), (0.14, 4.1), (0.2, 3.9), (0.06, 3.7), (0.11, 3.5),
    (0.16, 3.3), (0.03, 3.1), (0.08, 2.9), (0.13, 2.6), (0.05, 2.3), (0.1, 2.0), (0.04, 1.7), (0.08, 1.5), (0.22, 6.0), (0.24, 4.4),
    (0.25, 7.2), (0.3, 5.4), (0.35, 3.9), (0.4, 2.9), (0.45, 6.2), (0.5, 1.65), (0.5, 4.6), (0.6, 5.8), (0.65, 3.3), (0.7, 6.5),
    (0.75, 4.2), (0.8, 5.1), (0.9, 2.8), (0.95, 6.1), (1.0, 4.3), (1.05, 5.6), (1.1, 3.6), (1.2, 6.4), (1.25, 4.8), (1.3, 2.6),
    (1.35, 5.9), (1.45, 3.5), (1.5, 6.6), (1.55, 4.4), (1.6, 5.4), (1.7, 3.3), (1.8, 6.3), (1.85, 4.9), (1.9, 5.7), (2.0, 4.1),
    (2.05, 6.2), (2.1, 3.3), (2.2, 5.3), (2.25, 6.9), (2.3, 4.6), (2.4, 5.9), (2.45, 3.8), (2.5, 6.4), (2.55, 5.0), (2.6, 4.2),
    (2.7, 6.7), (2.75, 5.5), (2.8, 3.4), (2.85, 6.1), (2.9, 4.8), (3.0, 7.0), (3.05, 5.7), (3.1, 4.4), (3.2, 6.3), (3.25, 5.2),
    (3.3, 3.9), (3.4, 6.8), (3.5, 5.8), (3.6, 4.7), (3.7, 6.1), (3.75, 5.3), (3.8, 3.9), (3.9, 6.4), (4.0, 5.6), (4.1, 6.2),
    (4.2, 4.9), (4.3, 6.6), (4.35, 5.8), (4.5, 4.9), (4.6, 6.0), (4.7, 7.0), (4.8, 5.9), (4.9, 6.5), (4.9, 5.6),
    (0.15, 4.6), (0.2, 5.2), (0.35, 5.0), (0.55, 4.4), (0.85, 5.4), (1.15, 5.1), (1.65, 5.8), (2.15, 5.6), (2.65, 5.9), (3.15, 6.0),
]
CCNE1_PTS = [
    (0.05, 7.4), (0.1, 7.0), (0.15, 6.7), (0.03, 6.4), (0.08, 6.1), (0.12, 5.9), (0.18, 5.7), (0.05, 5.5), (0.1, 5.3), (0.14, 5.1),
    (0.02, 4.9), (0.07, 4.7), (0.12, 4.5), (0.17, 4.3), (0.04, 4.1), (0.09, 3.9), (0.14, 3.7), (0.2, 3.5), (0.06, 3.3), (0.11, 3.1),
    (0.16, 2.9), (0.03, 2.7), (0.08, 2.4), (0.05, 2.1), (0.04, 1.7), (0.06, 1.4), (0.22, 6.0), (0.2, 5.0), (0.24, 4.0), (0.13, 6.8),
    (0.3, 7.3), (0.45, 7.25), (0.25, 2.6), (0.3, 4.5), (0.4, 6.6), (0.45, 3.1), (0.5, 5.6), (0.55, 4.0), (0.6, 3.4), (0.7, 5.0),
    (0.75, 6.0), (0.8, 3.1), (0.9, 4.5), (0.95, 6.8), (1.0, 2.8), (1.05, 5.3), (1.1, 6.9), (1.15, 3.6), (1.2, 2.3), (1.25, 4.8),
    (1.3, 7.75), (1.35, 5.8), (1.4, 4.1), (1.5, 3.0), (1.55, 5.4), (1.6, 4.6), (1.7, 6.1), (1.8, 3.8), (1.85, 6.5), (1.9, 5.1),
    (2.0, 3.1), (2.05, 4.6), (2.1, 5.8), (2.2, 3.6), (2.25, 7.7), (2.3, 4.9), (2.4, 6.2), (2.5, 4.1), (2.55, 5.5), (2.6, 3.3),
    (2.7, 6.0), (2.75, 4.5), (2.8, 7.35), (2.85, 5.3), (2.9, 3.7), (3.0, 6.7), (3.05, 4.8), (3.1, 5.9), (3.2, 8.0), (3.25, 4.2),
    (3.3, 6.9), (3.4, 5.4), (3.45, 8.8), (3.5, 7.4), (3.55, 3.7), (3.6, 5.9), (3.7, 4.5), (3.8, 8.35), (3.9, 4.4), (4.0, 7.4),
    (4.1, 5.0), (4.2, 6.2), (4.2, 3.5), (4.3, 5.8), (4.4, 4.8), (4.5, 4.2), (4.7, 9.3), (4.8, 5.3), (4.9, 5.9), (4.9, 3.9),
    (0.15, 4.4), (0.35, 4.9), (0.65, 4.3), (0.85, 5.2), (1.2, 4.4), (1.45, 5.0), (1.75, 4.4), (2.15, 4.7), (2.45, 5.1), (2.95, 4.6),
    (4.0, 4.3), (4.3, 4.0), (3.8, 4.6), (4.6, 4.4), (4.85, 4.8),
]
CCNE2_PTS = [
    (0.05, 5.1), (0.1, 1.8), (0.15, 0.8), (0.03, 1.9), (0.08, 1.3), (0.12, 2.3), (0.18, 3.3), (0.05, 3.1), (0.1, 2.9), (0.14, 2.7),
    (0.02, 2.5), (0.07, 2.3), (0.12, 2.1), (0.17, 1.9), (0.04, 1.7), (0.09, 1.5), (0.14, 1.3), (0.2, 1.1), (0.06, 0.9), (0.11, 0.7),
    (0.16, 0.5), (0.03, 0.3), (0.08, 0.2), (0.22, 2.0), (0.13, 1.2), (0.2, 3.0), (0.06, 0.6), (0.01, 1.6), (0.24, 2.4), (0.1, 4.0),
    (0.02, 0.8), (0.06, 1.0), (0.1, 1.4), (0.14, 0.4), (0.18, 1.8), (0.22, 0.9), (0.04, 1.2), (0.08, 2.2), (0.12, 0.6), (0.16, 1.5),
    (0.2, 0.3), (0.26, 1.1), (0.07, 4.6), (0.13, 4.3), (0.04, 3.6),
    (0.3, 4.2), (0.35, 2.2), (0.4, 0.4), (0.45, 3.3), (0.5, 1.3), (0.55, 2.6), (0.6, 0.6), (0.7, 1.9), (0.8, 3.6), (0.85, 0.5),
    (0.9, 2.3), (1.0, 1.1), (1.05, 3.1), (1.1, 0.7), (1.2, 1.7), (1.25, 2.8), (1.3, 1.0), (1.35, 0.4), (1.4, 2.2), (1.5, 3.4),
    (1.55, 1.2), (1.6, 4.95), (1.65, 0.7), (1.7, 2.6), (1.8, 1.5), (1.85, 3.6), (1.9, 0.9), (2.0, 2.1), (2.05, 3.5), (2.1, 1.3),
    (2.2, 2.6), (2.3, 1.6), (2.4, 3.1), (2.45, 0.8), (2.5, 1.9), (2.6, 4.65), (2.65, 2.8), (2.7, 1.2), (2.8, 4.1), (2.85, 2.3),
    (2.9, 3.7), (3.0, 1.6), (3.05, 4.3), (3.1, 2.5), (3.2, 2.0), (3.3, 3.3), (3.4, 1.9), (3.5, 2.9), (3.6, 3.4), (3.7, 3.2),
    (3.8, 2.0), (3.9, 2.4), (4.0, 2.7), (4.1, 2.8), (4.2, 3.0), (4.3, 1.9), (4.5, 2.6), (4.6, 3.1), (4.8, 1.3), (4.9, 3.7),
    (4.9, 3.0), (4.9, 1.9), (4.0, 3.4), (4.3, 3.6), (3.5, 2.2), (4.6, 1.5),
    (0.3, 0.8), (0.4, 1.5), (0.5, 0.5), (0.6, 1.6), (0.7, 0.9), (0.8, 1.2), (0.9, 0.4), (1.0, 1.7), (1.1, 1.4), (1.2, 0.6),
    (1.3, 1.9), (1.4, 0.9),
]

CORR_GENES = ["CDK2", "CDK4", "CDK6", "CCND1", "CCND2", "CCNA1", "CCNA2", "CCNE1", "CCNE2"]
CORR_R = ["0.302", "0.383", "0.428", "\u22120.060", "0.271", "0.244", "0.438", "0.258", "0.353"]
CORR_P = ["< 0.001", "< 0.001", "< 0.001", "= 0.225", "< 0.001", "< 0.001", "< 0.001", "< 0.001", "< 0.001"]

# ── 样式 ──
LOW_COLOR = "#40E0D0"
HIGH_COLOR = "#FF3030"
TURQ = "#40E0D0"
MAGENTA = "#FF00FF"

sns.set_style("ticks")
plt.rcParams["font.family"] = ["Liberation Sans", "DejaVu Sans"]
plt.rcParams["mathtext.fontset"] = "custom"
plt.rcParams["mathtext.rm"] = "Liberation Sans"
plt.rcParams["mathtext.it"] = "Liberation Sans:italic"
plt.rcParams["axes.linewidth"] = 0.8
plt.rcParams["axes.edgecolor"] = "black"
plt.rcParams["xtick.color"] = "black"
plt.rcParams["ytick.color"] = "black"

W, H = 1055, 1309
fig = plt.figure(figsize=(W / 100, H / 100), dpi=100)


def px_axes(left, top, width, height):
    """按像素坐标(左上角为原点)添加坐标轴"""
    return fig.add_axes([left / W, 1 - (top + height) / H, width / W, height / H])


def style_axis(ax):
    sns.despine(ax=ax)
    ax.tick_params(direction="out", length=3, width=0.8, pad=2.5, labelsize=7.5)


def km_curve(ax, t, s, cens, color):
    t_all = np.r_[0, t]
    s_all = np.r_[1.0, s]
    end = max(cens[-1], t[-1])
    ax.step(np.r_[t_all, end], np.r_[s_all, s_all[-1]], where="post", color=color, lw=0.9)
    idx = np.searchsorted(t_all, cens, side="right") - 1
    ax.plot(cens, s_all[idx], ls="none", marker="+", ms=5, mew=0.8, color=color)


def draw_km(ax, gene, pval, low, high):
    km_curve(ax, *low, LOW_COLOR)
    km_curve(ax, *high, HIGH_COLOR)
    lo = min(min(low[1]), min(high[1]))
    r = 1 - lo
    ax.set_ylim(lo - 0.033 * r, 1 + 0.024 * r)
    ax.set_xlim(-110, 5130)
    ax.set_xticks(range(0, 5001, 1000))
    ax.yaxis.set_major_locator(MultipleLocator(0.2))
    ax.yaxis.set_major_formatter(FormatStrFormatter("%.1f"))
    ax.set_xlabel("Time (days)", fontsize=9, labelpad=3)
    ax.set_ylabel("Survival probability", fontsize=8.5, labelpad=4)
    style_axis(ax)
    ax.text(0.02, 0.03, "Overall Survival\nLog\u2212rank $P$ = " + pval, transform=ax.transAxes,
            fontsize=7.5, ha="left", va="bottom", linespacing=1.15)
    handles = [Line2D([], [], color=LOW_COLOR, lw=1), Line2D([], [], color=HIGH_COLOR, lw=1)]
    ax.legend(handles, ["Low", "High"], title=gene, loc="upper left", bbox_to_anchor=(0.79, 0.995),
              frameon=False, fontsize=7.5, title_fontsize=7.5, handlelength=1.3, handletextpad=0.6,
              labelspacing=0.35, borderpad=0, borderaxespad=0, alignment="left")


def draw_corr(left, top, gene, pts, r_txt, p_txt, ystep):
    x = np.array([p[0] for p in pts])
    y = np.array([p[1] for p in pts])
    ax = px_axes(left, top, 162, 163)
    sns.scatterplot(x=x, y=y, ax=ax, color=TURQ, s=24, alpha=0.6, linewidth=0, legend=False)
    # 灰色置信带 + 青色回归线
    sns.regplot(x=x, y=y, ax=ax, scatter=False, color="#808080", line_kws={"lw": 0}, seed=1)
    sns.regplot(x=x, y=y, ax=ax, scatter=False, ci=None, color=TURQ, line_kws={"lw": 1})
    r = y.max() - y.min()
    ylim = (y.min() - 0.03 * r, y.max() + 0.03 * r)
    xlim = (-0.13, 5.05)
    ax.set_xlim(xlim)
    ax.set_ylim(ylim)
    ax.set_xticks(range(0, 6))
    ax.yaxis.set_major_locator(MultipleLocator(ystep))
    ax.set_xlabel("The expression of IGF2BP3\nLog$_2$ (TPM+1)", fontsize=8.5, linespacing=0.9, labelpad=3)
    ax.set_ylabel(f"The expression of {gene}\nLog$_2$ (TPM+1)", fontsize=8.5, linespacing=0.95, labelpad=4)
    style_axis(ax)
    for yy, txt in ((0.225, "Spearman"), (0.145, "$R$ = " + r_txt), (0.065, "$P$ " + p_txt)):
        ax.text(0.975, yy, txt, transform=ax.transAxes, ha="right", va="center", fontsize=7.5)

    # 边际密度
    axt = px_axes(left, top - 33, 162, 30)
    sns.kdeplot(x=x, ax=axt, fill=True, color=TURQ, alpha=0.5, linewidth=0, cut=0)
    axt.set_xlim(xlim)
    axt.set_ylim(bottom=0)
    axt.axis("off")
    axr = px_axes(left + 168, top, 27, 163)
    sns.kdeplot(y=y, ax=axr, fill=True, color=TURQ, alpha=0.5, linewidth=0, cut=0)
    axr.set_ylim(ylim)
    axr.set_xlim(left=0)
    axr.axis("off")


# ── 生存曲线 ──
KM_LEFT = [54, 320, 586, 853]
KM_TOP = [15, 278, 542]
KM_CELLS = [(0, 0), (0, 1), (0, 2), (0, 3), (1, 0), (1, 1), (1, 2), (1, 3), (2, 0)]
km_data = [
    ((CDK2_LOW_T, CDK2_LOW_S, CDK2_LOW_C), (CDK2_HIGH_T, CDK2_HIGH_S, CDK2_HIGH_C)),
    ((CDK4_LOW_T, CDK4_LOW_S, CDK4_LOW_C), (CDK4_HIGH_T, CDK4_HIGH_S, CDK4_HIGH_C)),
    ((CDK6_LOW_T, CDK6_LOW_S, CDK6_LOW_C), (CDK6_HIGH_T, CDK6_HIGH_S, CDK6_HIGH_C)),
    ((CCND1_LOW_T, CCND1_LOW_S, CCND1_LOW_C), (CCND1_HIGH_T, CCND1_HIGH_S, CCND1_HIGH_C)),
    ((CCND2_LOW_T, CCND2_LOW_S, CCND2_LOW_C), (CCND2_HIGH_T, CCND2_HIGH_S, CCND2_HIGH_C)),
    ((CCNA1_LOW_T, CCNA1_LOW_S, CCNA1_LOW_C), (CCNA1_HIGH_T, CCNA1_HIGH_S, CCNA1_HIGH_C)),
    ((CCNA2_LOW_T, CCNA2_LOW_S, CCNA2_LOW_C), (CCNA2_HIGH_T, CCNA2_HIGH_S, CCNA2_HIGH_C)),
    ((CCNE1_LOW_T, CCNE1_LOW_S, CCNE1_LOW_C), (CCNE1_HIGH_T, CCNE1_HIGH_S, CCNE1_HIGH_C)),
    ((CCNE2_LOW_T, CCNE2_LOW_S, CCNE2_LOW_C), (CCNE2_HIGH_T, CCNE2_HIGH_S, CCNE2_HIGH_C)),
]
for (row, col), gene, pval, (low, high) in zip(KM_CELLS, KM_GENES, KM_PVALUES, km_data):
    ax = px_axes(KM_LEFT[col], KM_TOP[row], 198, 212)
    draw_km(ax, gene, pval, low, high)

# ── 相关性散点 ──
CORR_LEFT = [64, 330, 596, 859]
CORR_TOP = [573, 836, 1097]
CORR_CELLS = [(0, 1), (0, 2), (0, 3), (1, 0), (1, 1), (1, 2), (1, 3), (2, 0), (2, 1)]
CORR_YSTEP = [1, 2, 2, 2, 2, 2, 1, 2, 1]
corr_pts = [CDK2_PTS, CDK4_PTS, CDK6_PTS, CCND1_PTS, CCND2_PTS, CCNA1_PTS, CCNA2_PTS, CCNE1_PTS, CCNE2_PTS]
for (row, col), gene, pts, r_txt, p_txt, step in zip(CORR_CELLS, CORR_GENES, corr_pts, CORR_R, CORR_P, CORR_YSTEP):
    draw_corr(CORR_LEFT[col], CORR_TOP[row], gene, pts, r_txt, p_txt, step)

# ── 高亮框 (CDK6) ──
for l, t, r, b in ((541, 6, 797, 265), (808, 535, 1054, 789)):
    fig.patches.append(Rectangle((l / W, 1 - b / H), (r - l) / W, (b - t) / H, transform=fig.transFigure,
                                 fill=False, edgecolor=MAGENTA, lw=1.5))

fig.savefig("out.png", dpi=100, facecolor="white")
